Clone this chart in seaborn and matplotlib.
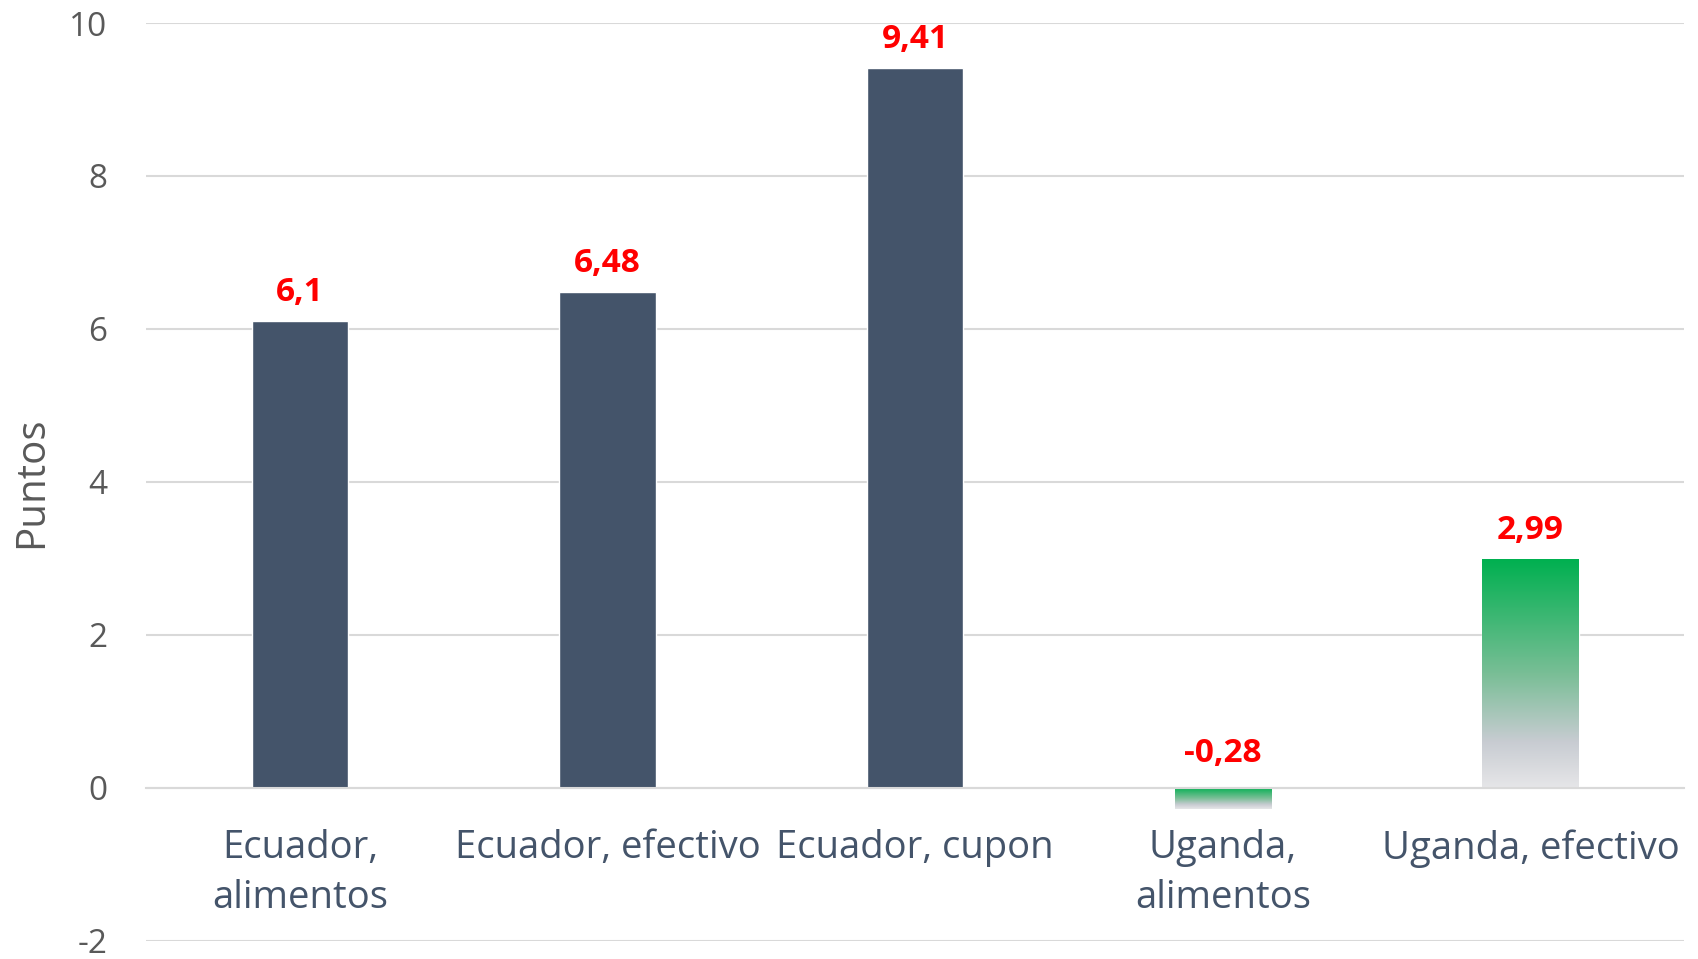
import numpy as np
import pandas as pd
import matplotlib
matplotlib.use("Agg")
import matplotlib.pyplot as plt
from matplotlib.colors import LinearSegmentedColormap
import seaborn as sns

categories = ["Ecuador,\nalimentos", "Ecuador, efectivo", "Ecuador, cupon",
              "Uganda,\nalimentos", "Uganda, efectivo"]
values = [6.10, 6.48, 9.41, -0.28, 2.99]
labels = ["6,1", "6,48", "9,41", "-0,28", "2,99"]
gradient_flags = [False, False, False, True, True]

sns.set_theme(style="white")
plt.rcParams['font.family'] = ['Open Sans', 'DejaVu Sans']
plt.rcParams['axes.unicode_minus'] = False

df = pd.DataFrame({"cat": categories, "val": values})

fig = plt.figure(figsize=(16.98, 9.59), dpi=100)
ax = fig.add_axes([0.086, 0.019, 0.906, 0.957])

sns.barplot(data=df, x="cat", y="val", color="#44546A", saturation=1,
            width=0.313, ax=ax, zorder=3)

ax.set_ylim(-2, 10)
ax.set_xlim(-0.5, 4.5)
ax.set_yticks(np.arange(-2, 11, 2))
ax.yaxis.grid(True, color="#D9D9D9", linewidth=1.5, zorder=0)
ax.set_axisbelow(True)
for s in ["top", "right", "left"]:
    ax.spines[s].set_visible(False)
ax.spines["bottom"].set_position(("data", 0))
ax.spines["bottom"].set_color("#D9D9D9")
ax.spines["bottom"].set_linewidth(1.5)
ax.spines["bottom"].set_zorder(4)

ax.tick_params(axis="y", length=0, labelsize=24, labelcolor="#595959", pad=28)
ax.tick_params(axis="x", length=0, labelsize=27.5, labelcolor="#44546A", pad=30)
for t in ax.get_xticklabels():
    t.set_linespacing(1.4)
ax.set_xlabel("")
ax.set_ylabel("Puntos", fontsize=29, color="#595959", labelpad=12)

cmap = LinearSegmentedColormap.from_list(
    "g", [(0.0, "#E6E6E8"), (0.2, "#C8CCD2"), (0.5, "#79BE96"), (1.0, "#00B050")])
grad = np.linspace(0, 1, 256).reshape(-1, 1)

for patch, flag in zip(ax.patches, gradient_flags):
    if not flag:
        continue
    x0 = patch.get_x()
    w = patch.get_width()
    y0 = patch.get_y()
    h = patch.get_height()
    ylo, yhi = min(y0, y0 + h), max(y0, y0 + h)
    patch.set_facecolor("none")
    im = ax.imshow(grad, extent=[x0, x0 + w, ylo, yhi], origin="lower",
                   cmap=cmap, aspect="auto", zorder=3)
    im.set_clip_path(patch)

ax.set_xlim(-0.5, 4.5)
ax.set_ylim(-2, 10)

for i, (v, lab) in enumerate(zip(values, labels)):
    ax.annotate(lab, xy=(i, max(v, 0)), xytext=(0, 9 if v >= 0 else 13),
                textcoords="offset points",
                ha="center", va="bottom", fontsize=24, fontweight="bold",
                color="#FF0000", zorder=5)

fig.savefig("out.png", dpi=100, facecolor="white")
